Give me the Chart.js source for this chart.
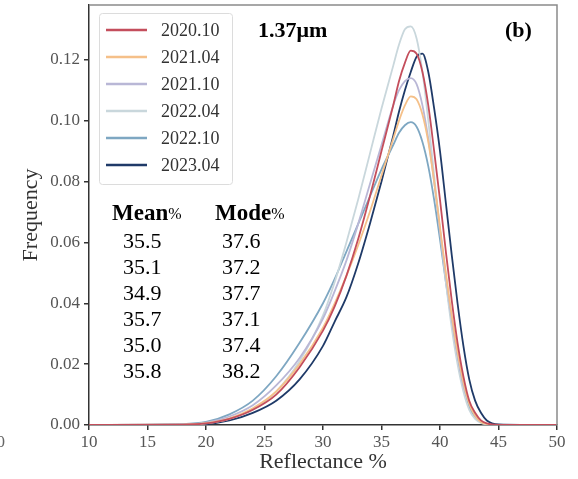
<!DOCTYPE html>
<html>
<head>
<meta charset="utf-8">
<script src="https://cdn.jsdelivr.net/npm/chart.js@4"></script>
<style>
  html, body { margin: 0; padding: 0; background: #fff; }
  #wrap { width: 578px; height: 479px; }
</style>
</head>
<body>
<div id="wrap"><canvas id="myChart" width="578" height="479"></canvas></div>
<script>
// reflectance (%) sample positions
var reflectance = [10, 18, 20, 22, 24, 26, 28, 30, 31, 32, 33, 34, 35, 36, 36.5, 37, 37.5, 38, 38.5, 39, 39.5, 40, 40.5, 41, 41.5, 42, 42.5, 43, 43.5, 44, 45, 50];

var labels = ['2020.10', '2021.04', '2021.10', '2022.04', '2022.10', '2023.04'];
var colors = ['#c44e5c', '#f5c089', '#b9b7d6', '#c9d7dc', '#7ea7c2', '#1f3a68'];

var f202010 = [0, 0.0001, 0.0005, 0.002, 0.005, 0.010, 0.019, 0.031, 0.039, 0.049, 0.061, 0.075, 0.090, 0.105, 0.113, 0.119, 0.123, 0.122, 0.116, 0.105, 0.090, 0.074, 0.057, 0.041, 0.027, 0.016, 0.008, 0.004, 0.0015, 0.0005, 0, 0];
var f202104 = [0, 0.0001, 0.0006, 0.0022, 0.0055, 0.011, 0.020, 0.032, 0.040, 0.049, 0.059, 0.070, 0.082, 0.094, 0.100, 0.105, 0.108, 0.107, 0.102, 0.093, 0.080, 0.065, 0.050, 0.036, 0.024, 0.014, 0.007, 0.003, 0.001, 0.0003, 0, 0];
var f202110 = [0, 0.0002, 0.0008, 0.0028, 0.0065, 0.013, 0.022, 0.035, 0.044, 0.054, 0.066, 0.079, 0.092, 0.105, 0.110, 0.113, 0.114, 0.112, 0.105, 0.094, 0.080, 0.064, 0.049, 0.035, 0.023, 0.013, 0.007, 0.003, 0.001, 0.0003, 0, 0];
var f202204 = [0, 0.0001, 0.0005, 0.002, 0.005, 0.011, 0.021, 0.036, 0.047, 0.060, 0.074, 0.089, 0.104, 0.118, 0.125, 0.130, 0.131, 0.127, 0.116, 0.100, 0.082, 0.064, 0.047, 0.032, 0.020, 0.011, 0.005, 0.002, 0.0007, 0.0002, 0, 0];
var f202210 = [0, 0.0003, 0.001, 0.0035, 0.008, 0.016, 0.027, 0.040, 0.048, 0.057, 0.066, 0.075, 0.084, 0.092, 0.096, 0.0985, 0.0995, 0.098, 0.093, 0.085, 0.074, 0.061, 0.047, 0.034, 0.022, 0.013, 0.006, 0.0025, 0.001, 0.0003, 0, 0];
var f202304 = [0, 0.0001, 0.0003, 0.0015, 0.004, 0.008, 0.015, 0.026, 0.034, 0.042, 0.053, 0.066, 0.080, 0.095, 0.103, 0.110, 0.116, 0.121, 0.122, 0.116, 0.104, 0.090, 0.073, 0.056, 0.040, 0.026, 0.015, 0.008, 0.004, 0.0015, 0.0002, 0];

var meanVals = ['35.5', '35.1', '34.9', '35.7', '35.0', '35.8'];
var modeVals = ['37.6', '37.2', '37.7', '37.1', '37.4', '38.2'];

var series = [f202010, f202104, f202110, f202204, f202210, f202304];
var serif = "'Liberation Serif', 'DejaVu Serif', serif";

function pts(arr) {
    return arr.map(function (v, i) { return {x: reflectance[i], y: v}; });
}

var datasets = series.map(function (s, i) {
    return {
        label: labels[i], data: pts(s), borderColor: colors[i], backgroundColor: colors[i],
        borderWidth: 1.8, pointRadius: 0, cubicInterpolationMode: 'monotone', fill: false
    };
});

// frame, legend box and text annotations
var extras = {
    id: 'extras',
    afterDatasetsDraw: function (chart) {
        var c = chart.ctx, a = chart.chartArea;
        c.save();
        // top / right frame
        c.strokeStyle = '#8a8a8a';
        c.lineWidth = 1.5;
        c.beginPath();
        c.moveTo(a.left, a.top); c.lineTo(a.right, a.top); c.lineTo(a.right, a.bottom);
        c.stroke();

        // legend
        c.fillStyle = 'rgba(255,255,255,0.85)';
        c.strokeStyle = '#dcdcdc';
        c.lineWidth = 1;
        c.beginPath();
        c.roundRect(99.5, 13.5, 133, 171, 3);
        c.fill(); c.stroke();
        c.font = '18px ' + serif;
        c.textBaseline = 'middle';
        c.textAlign = 'left';
        var rows = [30, 57, 84, 111, 138, 165];
        chart.data.datasets.forEach(function (ds, i) {
            c.strokeStyle = ds.borderColor;
            c.lineWidth = 2.5;
            c.beginPath(); c.moveTo(106, rows[i]); c.lineTo(147, rows[i]); c.stroke();
            c.fillStyle = '#333';
            c.fillText(ds.label, 161, rows[i] + 1);
        });

        // labels
        c.fillStyle = '#000';
        c.font = 'bold 22px ' + serif;
        c.fillText('1.37\u03bcm', 258, 31);
        c.fillText('(b)', 505, 31);

        c.font = 'bold 23px ' + serif;
        c.fillText('Mean', 112, 214);
        c.fillText('Mode', 215, 214);
        var wMean = c.measureText('Mean').width, wMode = c.measureText('Mode').width;
        c.font = '16px ' + serif;
        c.fillText('%', 112 + wMean, 215);
        c.fillText('%', 215 + wMode, 215);

        c.font = '22px ' + serif;
        var ys = [242, 268, 294, 320, 346, 372];
        for (var i = 0; i < ys.length; i++) {
            c.fillText(meanVals[i], 123, ys[i]);
            c.fillText(modeVals[i], 222, ys[i]);
        }

        // cut-off tick label from the neighbouring panel
        c.fillStyle = '#666';
        c.font = '17px ' + serif;
        c.textAlign = 'right';
        c.fillText('50', 5, 443);
        c.restore();
    }
};

var ctx = document.getElementById('myChart').getContext('2d');
var myChart = new Chart(ctx, {
    type: 'line',
    data: {datasets: datasets},
    plugins: [extras],
    options: {
        responsive: false,
        animation: false,
        layout: {padding: {top: 5, right: 21, left: 0, bottom: 0}},
        plugins: {legend: {display: false}, tooltip: {enabled: false}},
        scales: {
            x: {
                type: 'linear', min: 10, max: 50,
                ticks: {stepSize: 5, color: '#555', font: {family: serif, size: 17}, padding: 2},
                grid: {drawOnChartArea: false, drawTicks: true, tickLength: 5, color: '#333', lineWidth: 1.5},
                border: {display: true, color: '#333', width: 1.5},
                title: {display: true, text: 'Reflectance %', color: '#333', font: {family: serif, size: 22}, padding: {top: 0}},
                afterFit: function (s) { s.height = 54; s.paddingLeft = 0; s.paddingRight = 0; }
            },
            y: {
                type: 'linear', min: 0, max: 0.138,
                ticks: {stepSize: 0.02, includeBounds: false, color: '#555', font: {family: serif, size: 17}, padding: 4,
                    callback: function (v) { return v.toFixed(2); }},
                grid: {drawOnChartArea: false, drawTicks: true, tickLength: 5, color: '#333', lineWidth: 1.5},
                border: {display: true, color: '#333', width: 1.5},
                title: {display: true, text: 'Frequency', color: '#333', font: {family: serif, size: 22}, padding: {top: 18, bottom: 4}},
                afterFit: function (s) { s.width = 89; s.paddingTop = 0; s.paddingBottom = 0; }
            }
        }
    }
});
</script>
</body>
</html>
